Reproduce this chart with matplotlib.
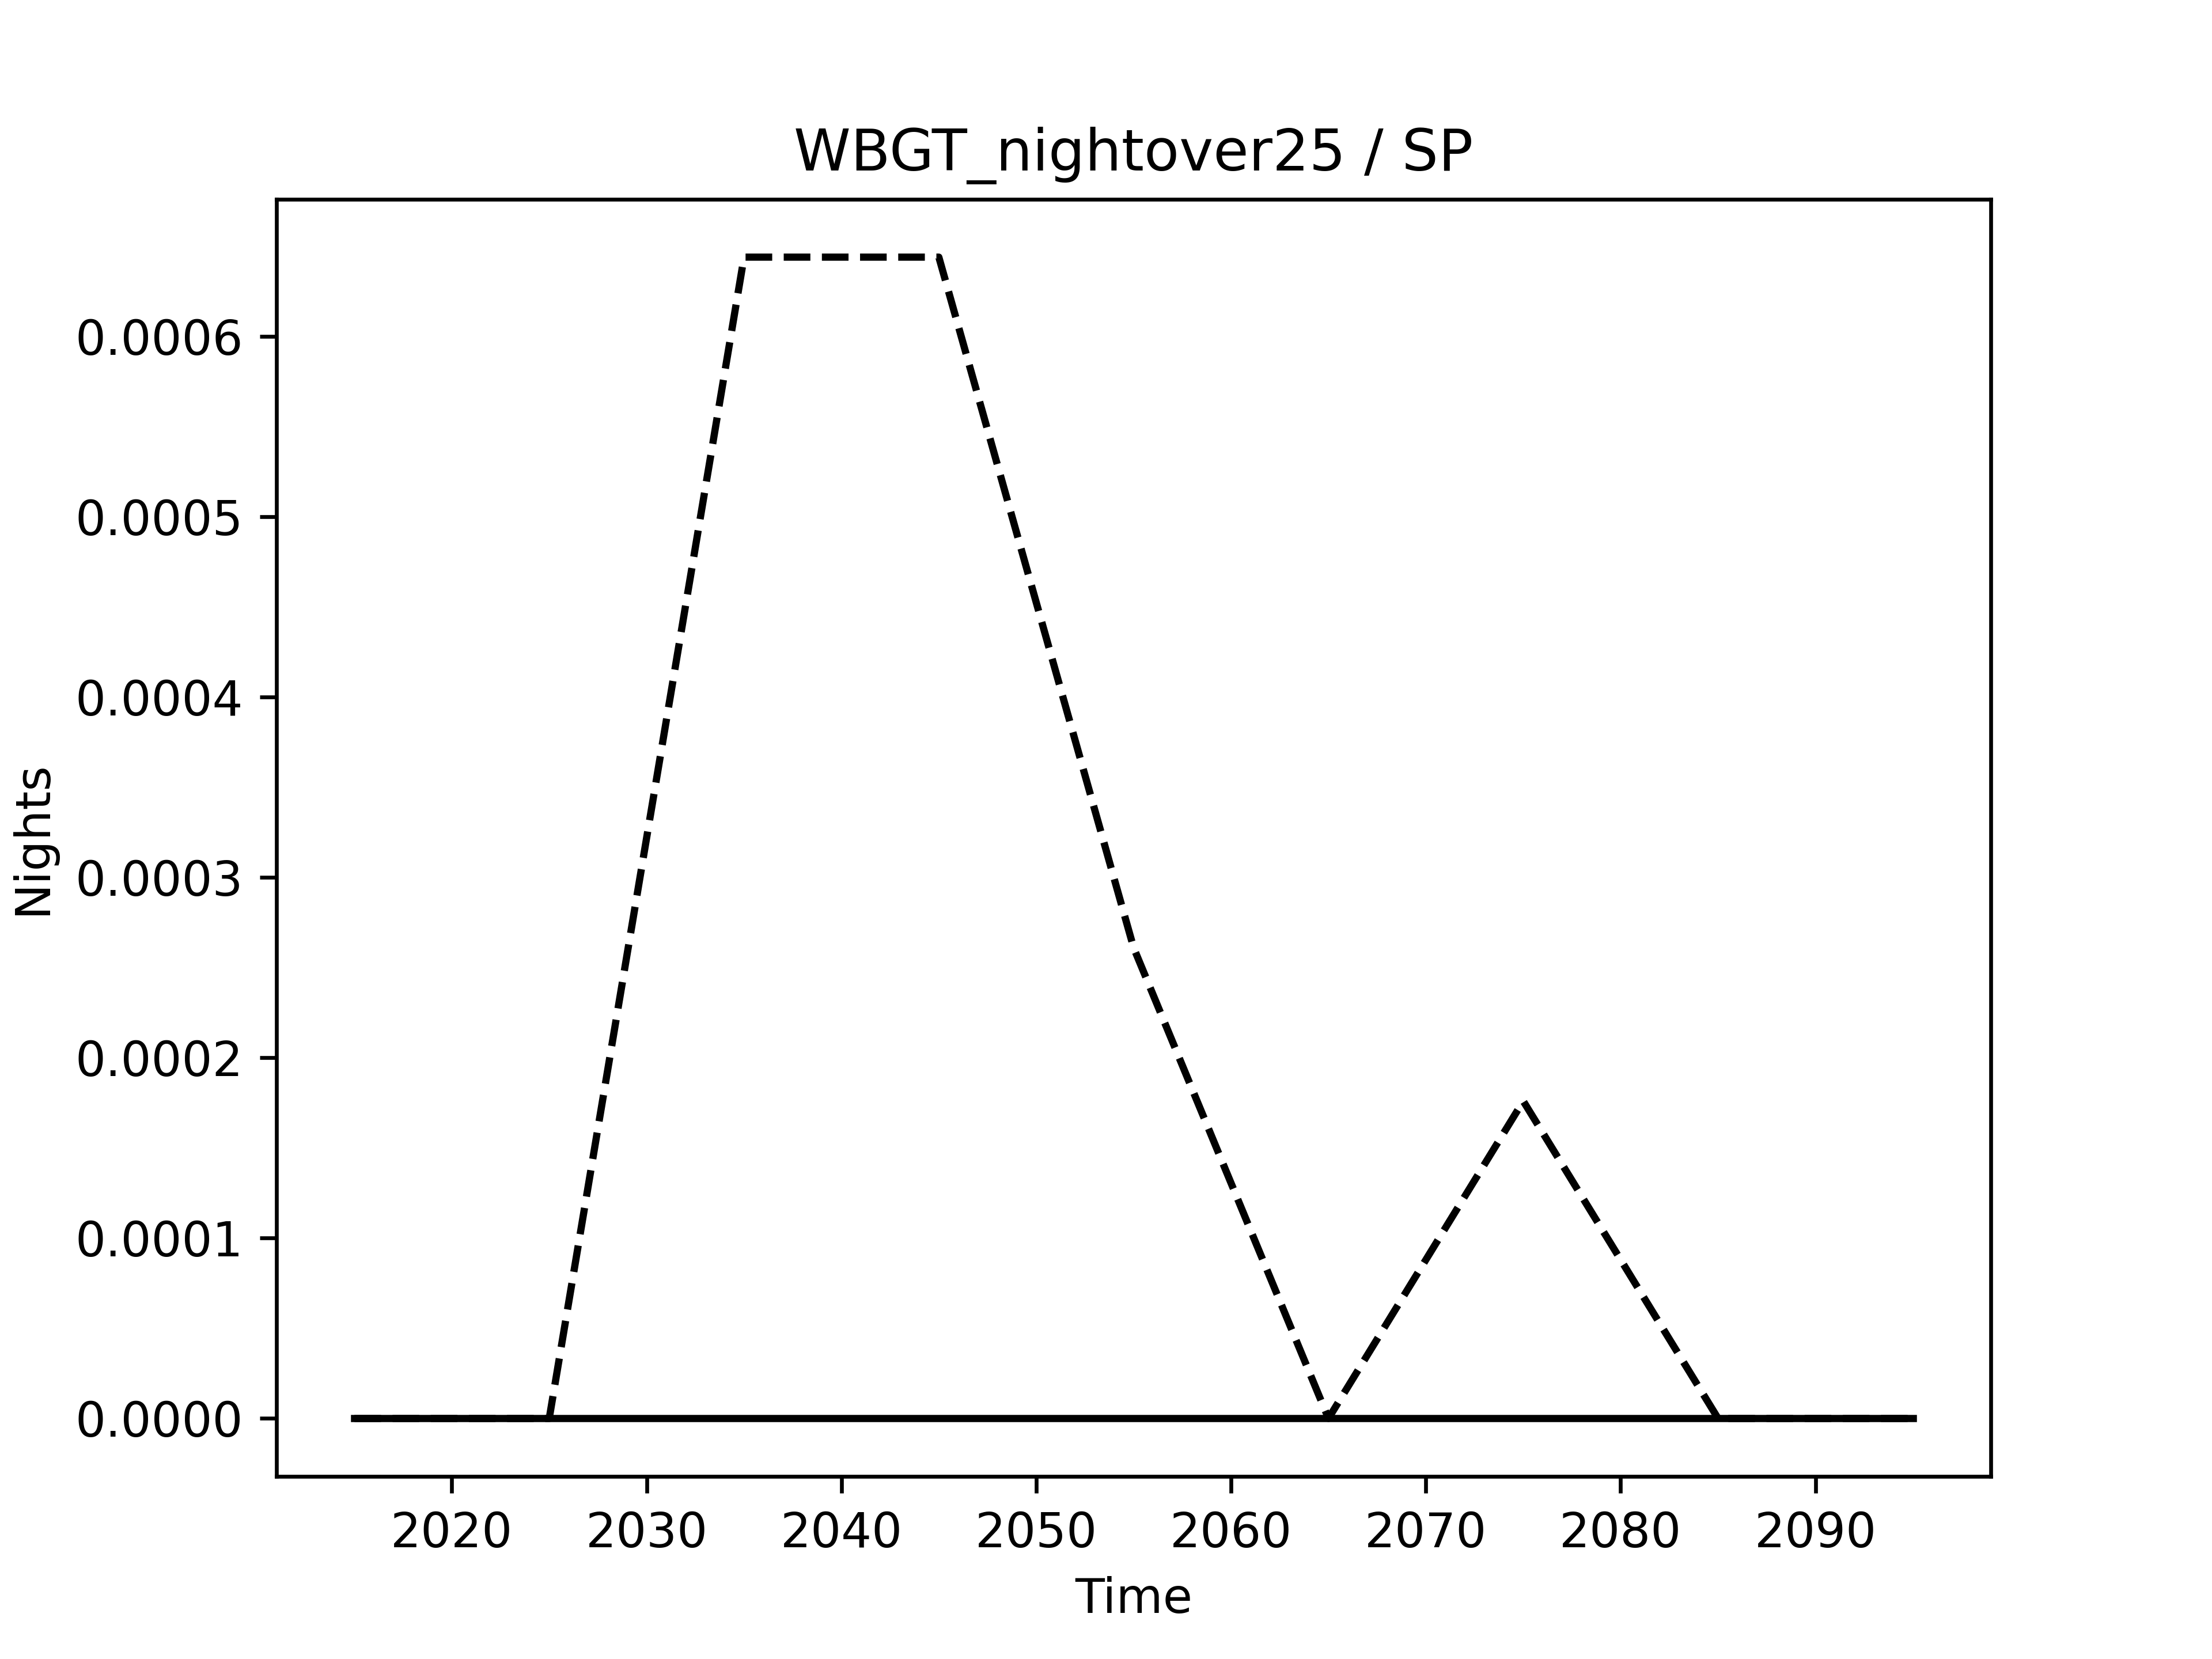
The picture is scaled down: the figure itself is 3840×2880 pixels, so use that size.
import matplotlib
matplotlib.use("Agg")
import matplotlib.pyplot as plt

years = [2015, 2025, 2035, 2045, 2055, 2065, 2075, 2085, 2095]
dashed_vals = [0.0, 0.0, 0.000644, 0.000644, 0.000261, 0.0, 0.000176, 0.0, 0.0]
solid_vals = [0.0, 0.0, 0.0, 0.0, 0.0, 0.0, 0.0, 0.0, 0.0]

fig, ax = plt.subplots(figsize=(6.4, 4.8), dpi=600)
ax.plot(years, dashed_vals, color="black", linestyle="--")
ax.plot(years, solid_vals, color="black", linestyle="-")
ax.set_title("WBGT_nightover25 / SP")
ax.set_xlabel("Time")
ax.set_ylabel("Nights")
ax.set_xticks([2020, 2030, 2040, 2050, 2060, 2070, 2080, 2090])
ax.yaxis.set_major_formatter(matplotlib.ticker.FormatStrFormatter("%.4f"))
fig.savefig("out.png", dpi=600)
